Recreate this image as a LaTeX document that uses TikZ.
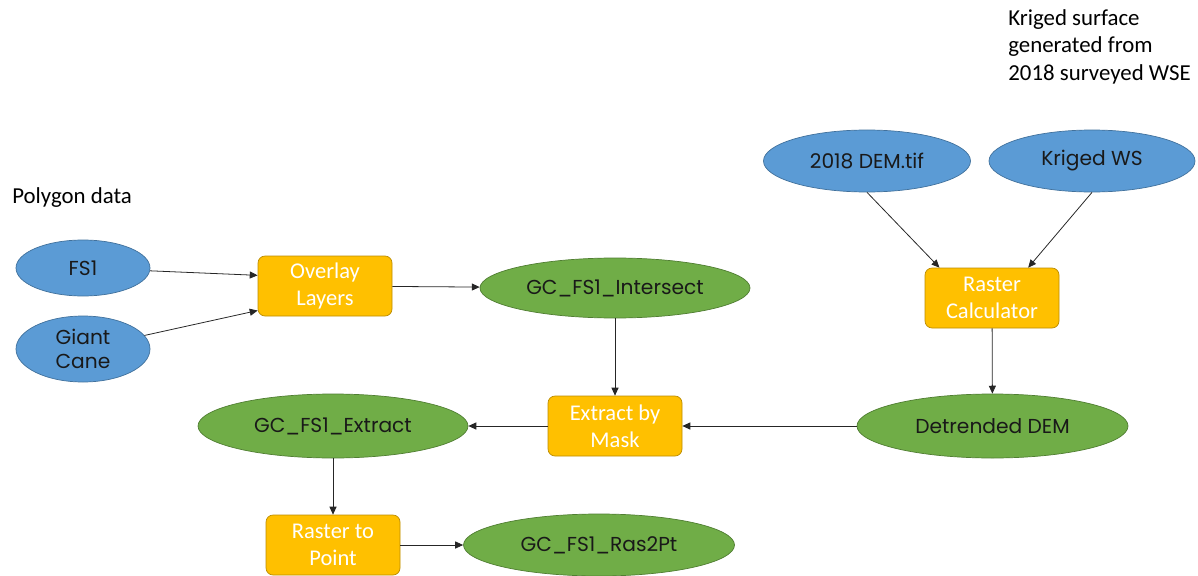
\documentclass[tikz,border=0pt]{standalone}
\usepackage{fontspec}
\setmainfont{Carlito}
\newfontfamily\popfont{Poppins}
\usepackage{xcolor}
\usetikzlibrary{shapes.geometric,arrows.meta}

\definecolor{dataBlue}{HTML}{5B9BD5}
\definecolor{dataBlueEdge}{HTML}{41719C}
\definecolor{outGreen}{HTML}{70AD47}
\definecolor{outGreenEdge}{HTML}{507E32}
\definecolor{toolGold}{HTML}{FFC000}
\definecolor{toolGoldEdge}{HTML}{BC8C00}

\begin{document}
\begin{tikzpicture}[
  oval/.style={ellipse, inner sep=0pt, align=center,
               font=\popfont\fontsize{11.5}{14}\selectfont, text=black!90},
  indata/.style={oval, fill=dataBlue, draw=dataBlueEdge},
  outdata/.style={oval, fill=outGreen, draw=outGreenEdge},
  tool/.style={rectangle, rounded corners=4pt, fill=toolGold, draw=toolGoldEdge,
               minimum width=2.68cm, minimum height=1.2cm, inner sep=0pt,
               align=center, text=white, font=\fontsize{12.8}{15.5}\selectfont},
  arr/.style={-{Triangle[length=4.5pt,width=4pt]}, black!85, line width=0.45pt},
  note/.style={align=left, font=\fontsize{13}{15.6}\selectfont, inner sep=0pt}
]
\useasboundingbox (0,0) rectangle (23.96,-11.52);

% inputs
\node[indata, minimum width=2.68cm, minimum height=1.12cm] (fs1) at (1.66,-5.36) {FS1};
\node[indata, minimum width=2.68cm, minimum height=1.32cm, inner ysep=-7pt] (cane) at (1.66,-6.98) {Giant\\Cane};
\node[indata, minimum width=4.14cm, minimum height=1.24cm] (dem) at (17.34,-3.22) {2018 DEM.tif};
\node[indata, minimum width=4.12cm, minimum height=1.24cm] (kws) at (21.84,-3.22) {Kriged WS};

% tools
\node[tool] (ovl) at (6.5,-5.72) {Overlay\\Layers};
\node[tool] (rcalc) at (19.84,-5.96) {Raster\\Calculator};
\node[tool] (ebm) at (12.3,-8.52) {Extract by\\Mask};
\node[tool] (r2p) at (6.66,-10.9) {Raster to\\Point};

% outputs
\node[outdata, minimum width=5.4cm, minimum height=1.2cm] (isect) at (12.3,-5.76) {GC\_FS1\_Intersect};
\node[outdata, minimum width=5.42cm, minimum height=1.28cm] (detr) at (19.85,-8.52) {Detrended DEM};
\node[outdata, minimum width=5.4cm, minimum height=1.28cm] (extr) at (6.66,-8.52) {GC\_FS1\_Extract};
\node[outdata, minimum width=5.42cm, minimum height=1.24cm] (ras) at (11.98,-10.9) {GC\_FS1\_Ras2Pt};

% notes
\node[note, anchor=west] (poly) at (0.24,-3.96) {Polygon data};
\node[note, anchor=north west] (kdesc) at (20.16,-0.18) {Kriged surface\\generated from\\2018 surveyed WSE};

\draw[arr] (fs1) -- (ovl.171);
\draw[arr] (cane) -- (ovl.200);
\draw[arr] (ovl) -- (isect);
\draw[arr] (isect) -- (ebm);
\draw[arr] (dem.south) -- (rcalc.150);
\draw[arr] (kws.south) -- (rcalc.40);
\draw[arr] (rcalc) -- (detr);
\draw[arr] (detr) -- (ebm);
\draw[arr] (ebm) -- (extr);
\draw[arr] (extr) -- (r2p);
\draw[arr] (r2p) -- (ras);
\end{tikzpicture}
\end{document}
